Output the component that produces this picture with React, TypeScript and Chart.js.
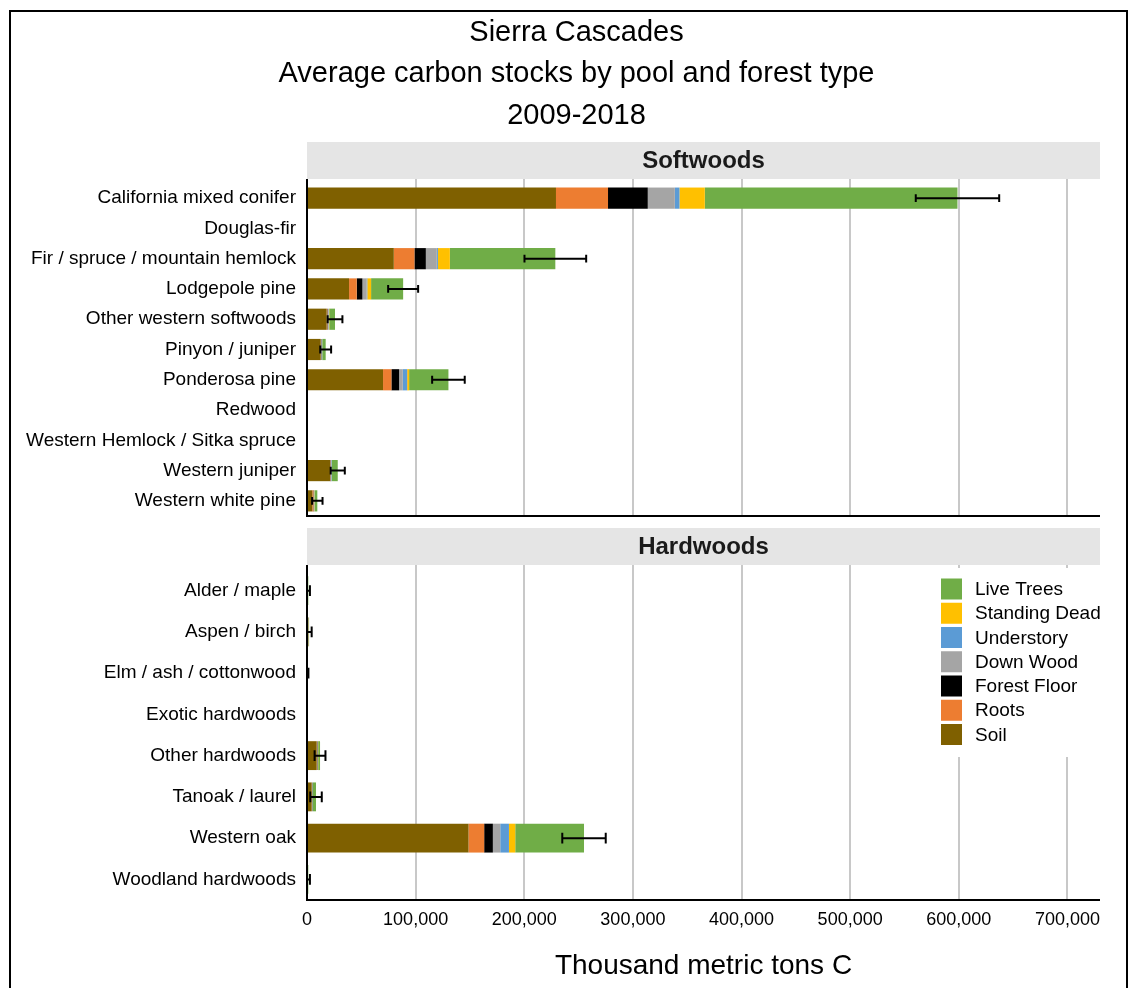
import React, { useEffect, useRef } from 'react';
import { Chart, registerables } from 'chart.js';

Chart.register(...registerables);

const FONT = "'Liberation Sans', Arial, Helvetica, sans-serif";

const titleLines = ['Sierra Cascades', 'Average carbon stocks by pool and forest type', '2009-2018'];
const axisTitle = 'Thousand metric tons C';
const xTickValues = [0, 100000, 200000, 300000, 400000, 500000, 600000, 700000];
const xMax = 730000;

const poolNames = ['Soil', 'Roots', 'Forest Floor', 'Down Wood', 'Understory', 'Standing Dead', 'Live Trees'];
const poolColors = ['#7F6000', '#ED7D31', '#000000', '#A5A5A5', '#5B9BD5', '#FFC000', '#70AD47'];

// Softwoods panel
const softLabel = 'Softwoods';
const softCategories = [
  'California mixed conifer',
  'Douglas-fir',
  'Fir / spruce / mountain hemlock',
  'Lodgepole pine',
  'Other western softwoods',
  'Pinyon / juniper',
  'Ponderosa pine',
  'Redwood',
  'Western Hemlock / Sitka spruce',
  'Western juniper',
  'Western white pine',
];
const softSoil = [229200, 0, 79900, 38700, 18100, 12600, 70000, 0, 0, 21200, 4900];
const softRoots = [47900, 0, 19000, 7100, 600, 300, 7700, 0, 0, 300, 1000];
const softForestFloor = [36600, 0, 10500, 5200, 400, 200, 7100, 0, 0, 300, 300];
const softDownWood = [24900, 0, 10100, 4000, 800, 500, 3400, 0, 0, 400, 300];
const softUnderstory = [4300, 0, 1000, 500, 300, 400, 4000, 0, 0, 500, 200];
const softStandingDead = [23300, 0, 11000, 3500, 300, 100, 1800, 0, 0, 200, 300];
const softLiveTrees = [232600, 0, 97100, 29500, 5300, 3100, 36200, 0, 0, 5400, 2500];
const softErrors = [38400, 0, 28400, 13800, 6800, 5000, 15000, 0, 0, 6500, 4800];

// Hardwoods panel
const hardLabel = 'Hardwoods';
const hardCategories = [
  'Alder / maple',
  'Aspen / birch',
  'Elm / ash / cottonwood',
  'Exotic hardwoods',
  'Other hardwoods',
  'Tanoak / laurel',
  'Western oak',
  'Woodland hardwoods',
];
const hardSoil = [600, 900, 300, 0, 8900, 4300, 148700, 500];
const hardRoots = [100, 150, 50, 0, 400, 300, 14400, 100];
const hardForestFloor = [50, 100, 50, 0, 300, 200, 8000, 50];
const hardDownWood = [50, 100, 50, 0, 300, 200, 6800, 50];
const hardUnderstory = [50, 50, 20, 0, 200, 200, 8000, 100];
const hardStandingDead = [50, 100, 30, 0, 200, 100, 5800, 50];
const hardLiveTrees = [300, 500, 100, 0, 1700, 3000, 63300, 350];
const hardErrors = [1500, 2400, 700, 0, 5000, 5300, 20000, 1500];

function makePlugin(stripLabel: string, gap: number, errors: number[], series: number[][], showLegend: boolean) {
  const stripH = 37;
  const totals = errors.map((_, i) => series.reduce((s, arr) => s + (arr[i] || 0), 0));
  return {
    id: 'panelDecor',
    beforeDatasetsDraw(chart: any) {
      const { ctx, chartArea } = chart;
      const { left, right, top, bottom } = chartArea;
      const xs = chart.scales.x;
      ctx.save();
      ctx.fillStyle = '#E5E5E5';
      ctx.fillRect(left, top - gap - stripH, right - left, stripH);
      ctx.fillStyle = '#1a1a1a';
      ctx.font = `bold 24px ${FONT}`;
      ctx.textAlign = 'center';
      ctx.textBaseline = 'middle';
      ctx.fillText(stripLabel, (left + right) / 2, top - gap - stripH / 2 + 1);
      ctx.strokeStyle = '#C8C8C8';
      ctx.lineWidth = 2;
      xTickValues.forEach((v) => {
        if (v <= 0) return;
        const px = Math.round(xs.getPixelForValue(v));
        ctx.beginPath();
        ctx.moveTo(px, top - gap);
        ctx.lineTo(px, bottom);
        ctx.stroke();
      });
      ctx.restore();
    },
    afterDatasetsDraw(chart: any) {
      const { ctx, chartArea } = chart;
      const { left, right, top, bottom } = chartArea;
      const xs = chart.scales.x;
      const meta = chart.getDatasetMeta(series.length - 1);
      ctx.save();
      ctx.beginPath();
      ctx.rect(left, top - gap, right - left, bottom - top + gap);
      ctx.clip();
      ctx.strokeStyle = '#000';
      ctx.lineWidth = 2;
      errors.forEach((err, i) => {
        if (!err) return;
        const el = meta.data[i];
        if (!el) return;
        const y = el.y;
        const cap = el.height * 0.37;
        const x1 = xs.getPixelForValue(totals[i] - err);
        const x2 = xs.getPixelForValue(totals[i] + err);
        ctx.beginPath();
        ctx.moveTo(x1, y);
        ctx.lineTo(x2, y);
        ctx.moveTo(x1, y - cap / 2);
        ctx.lineTo(x1, y + cap / 2);
        ctx.moveTo(x2, y - cap / 2);
        ctx.lineTo(x2, y + cap / 2);
        ctx.stroke();
      });
      ctx.restore();
      ctx.save();
      ctx.strokeStyle = '#000';
      ctx.lineWidth = 2;
      ctx.beginPath();
      ctx.moveTo(left, top - gap);
      ctx.lineTo(left, bottom + 1);
      ctx.moveTo(left - 1, bottom);
      ctx.lineTo(right, bottom);
      ctx.stroke();
      ctx.restore();
    },
    afterDraw(chart: any) {
      if (!showLegend) return;
      const { ctx, chartArea } = chart;
      const { right, top } = chartArea;
      ctx.save();
      ctx.fillStyle = '#FFFFFF';
      ctx.fillRect(right - 170, top - 2, 170, 189);
      const order = [6, 5, 4, 3, 2, 1, 0];
      order.forEach((pi, k) => {
        const cy = top + 19 + k * 24.25;
        ctx.fillStyle = poolColors[pi];
        ctx.fillRect(right - 159, cy - 10.5, 21, 21);
        ctx.fillStyle = '#000';
        ctx.font = `19px ${FONT}`;
        ctx.textAlign = 'left';
        ctx.textBaseline = 'middle';
        ctx.fillText(poolNames[pi], right - 125, cy + 1);
      });
      ctx.restore();
    },
  };
}

function makeConfig(categories: string[], series: number[][], errors: number[], stripLabel: string, isTop: boolean): any {
  const datasets = poolNames.map((name, i) => ({
    label: name,
    data: series[i],
    backgroundColor: poolColors[i],
    borderWidth: 0,
    barPercentage: 0.7,
    categoryPercentage: 1.0,
  }));
  return {
    type: 'bar',
    data: { labels: categories, datasets },
    plugins: [makePlugin(stripLabel, isTop ? 4 : 5, errors, series, !isTop)],
    options: {
      indexAxis: 'y',
      responsive: false,
      animation: false,
      devicePixelRatio: 1,
      layout: { padding: { left: 24, right: 0, top: isTop ? 0 : 48, bottom: isTop ? 6 : 0 } },
      plugins: {
        legend: { display: false },
        tooltip: { enabled: false },
        title: isTop
          ? {
              display: true,
              text: titleLines,
              color: '#000',
              font: { size: 29, family: FONT, weight: 'normal', lineHeight: 41.5 / 29 },
              padding: { top: 12, bottom: 46.5 },
            }
          : { display: false },
      },
      scales: {
        x: {
          type: 'linear',
          stacked: true,
          min: 0,
          max: xMax,
          display: !isTop,
          grid: { display: false, drawTicks: false },
          border: { display: false },
          afterBuildTicks: (scale: any) => {
            scale.ticks = xTickValues.map((v) => ({ value: v }));
          },
          ticks: {
            stepSize: 100000,
            autoSkip: false,
            maxRotation: 0,
            padding: 9,
            color: '#000',
            font: { size: 18, family: FONT },
            callback: (v: any) => Number(v).toLocaleString('en-US'),
          },
          title: {
            display: true,
            text: axisTitle,
            color: '#000',
            font: { size: 28, family: FONT },
            padding: { top: 0, bottom: 5 },
          },
          afterFit: (scale: any) => {
            scale.height = isTop ? 0 : 88;
            scale.paddingLeft = 0;
            scale.paddingRight = 0;
          },
        },
        y: {
          type: 'category',
          stacked: true,
          grid: { display: false, drawTicks: false },
          border: { display: false },
          ticks: { autoSkip: false, padding: 11, color: '#000', font: { size: 19, family: FONT } },
          afterFit: (scale: any) => {
            scale.width = 283;
            scale.paddingTop = 0;
            scale.paddingBottom = 0;
          },
        },
        yRightSpacer: {
          type: 'category',
          position: 'right',
          labels: categories,
          grid: { display: false, drawTicks: false },
          border: { display: false },
          ticks: { display: false },
          afterFit: (scale: any) => {
            scale.width = 29;
            scale.paddingTop = 0;
            scale.paddingBottom = 0;
          },
        },
      },
    },
  };
}

export default function App() {
  const topRef = useRef<HTMLCanvasElement>(null);
  const botRef = useRef<HTMLCanvasElement>(null);

  useEffect(() => {
    const charts: Chart[] = [];
    const softSeries = [softSoil, softRoots, softForestFloor, softDownWood, softUnderstory, softStandingDead, softLiveTrees];
    const hardSeries = [hardSoil, hardRoots, hardForestFloor, hardDownWood, hardUnderstory, hardStandingDead, hardLiveTrees];
    if (topRef.current) charts.push(new Chart(topRef.current, makeConfig(softCategories, softSeries, softErrors, softLabel, true)));
    if (botRef.current) charts.push(new Chart(botRef.current, makeConfig(hardCategories, hardSeries, hardErrors, hardLabel, false)));
    return () => charts.forEach((c) => c.destroy());
  }, []);

  return (
    <div style={{ position: 'absolute', left: 0, top: 0, width: 1129, height: 988, overflow: 'hidden', background: '#fff' }}>
      <canvas ref={topRef} width={1129} height={522} style={{ position: 'absolute', left: 0, top: 0, width: 1129, height: 522 }} />
      <canvas ref={botRef} width={1129} height={466} style={{ position: 'absolute', left: 0, top: 522, width: 1129, height: 466 }} />
      <div
        style={{
          position: 'absolute',
          left: 9,
          top: 10,
          width: 1119,
          height: 1100,
          boxSizing: 'border-box',
          border: '2px solid #000',
          pointerEvents: 'none',
        }}
      />
    </div>
  );
}
